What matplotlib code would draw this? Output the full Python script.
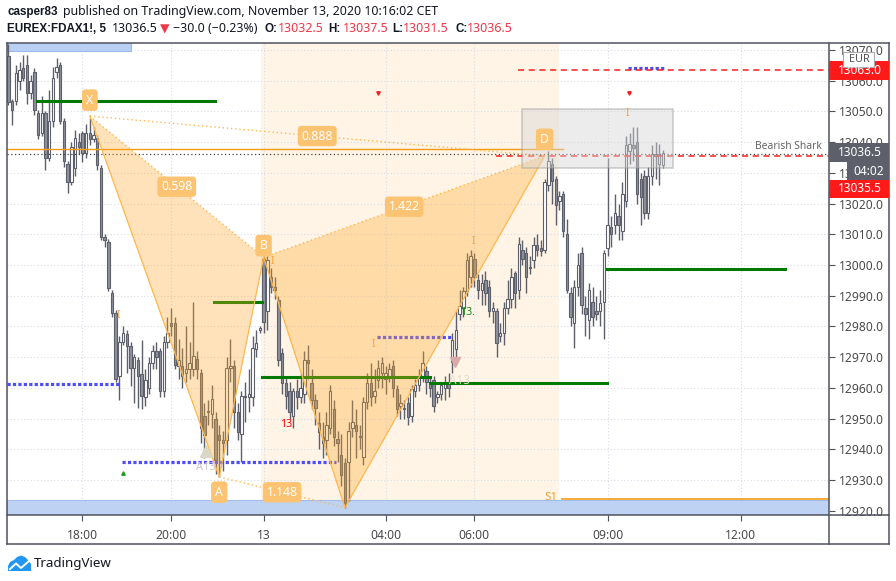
import matplotlib
matplotlib.use("Agg")
import matplotlib.pyplot as plt
from matplotlib.patches import Rectangle, Polygon
from matplotlib.lines import Line2D

plt.rcParams['font.family'] = ['Noto Sans', 'DejaVu Sans']

W, H = 896, 581

# 5 minute bars, FDAX, 12-13 Nov 2020
opens = [13068, 13053.5, 13053.5, 13060, 13064, 13065, 13056, 13063, 13049.5, 13043,
         13049.5, 13035, 13047, 13063, 13065, 13047, 13033, 13027, 13031.5, 13040,
         13043, 13036.5, 13043, 13041, 13041.5, 13031.5, 13009, 13007.5, 12991, 12984.5,
         12964, 12975, 12977.5, 12973.5, 12966.5, 12969, 12964.5, 12957, 12960, 12968,
         12972, 12972, 12959, 12975, 12981, 12981, 12967, 12967, 12965, 12966,
         12966, 12969.5, 12965, 12951, 12952, 12951.5, 12950, 12944.5, 12943, 12943,
         12966.5, 12967, 12952, 12945, 12957.5, 12957, 12957, 12972.5, 12979, 13002,
         12985, 12996, 12993, 12988.5, 12971.5, 12961.5, 12959, 12951, 12959, 12957,
         12958, 12969, 12961.5, 12956, 12948.5, 12944, 12943, 12947, 12953, 12943.5,
         12938, 12935.5, 12936, 12947, 12948, 12944, 12937.5, 12955.5, 12961.5, 12957.5,
         12962.5, 12965, 12963, 12964, 12967, 12959.5, 12954, 12953, 12955, 12951,
         12959, 12961, 12964, 12965.5, 12962, 12962.5, 12957, 12958, 12960, 12962,
         12968.5, 12972.5, 12984, 12986, 12991.5, 12996, 13002, 12995, 12992, 12995,
         12993, 12985, 12985, 12977, 12978, 12986, 12989, 12997.5, 12992, 13005,
         13004, 12999, 13001.5, 13006.5, 13005.5, 13005, 13026, 13033, 13028, 13021,
         13023, 13010, 12991, 12981, 12993, 13004, 12986, 12982, 12988, 12985,
         12985, 12988, 13005.5, 13012.5, 13013, 13016, 13011, 13021, 13037, 13039,
         13040, 13028, 13029, 13017, 13029, 13036, 13033, 13032.5]
highs = [13072, 13054, 13065, 13066, 13068.5, 13068.5, 13062, 13064, 13050.5, 13055,
         13050, 13057, 13064.5, 13067.5, 13066, 13048, 13034, 13040, 13044, 13043,
         13043.5, 13046, 13048, 13045, 13042.5, 13032.5, 13010, 13008.5, 12992, 12985.5,
         12977, 12980, 12979, 12975, 12971, 12970, 12975.5, 12966, 12970, 12974,
         12975, 12973, 12977, 12983, 12986, 12983, 12976, 12973, 12980, 12975,
         12988, 12972, 12966, 12955, 12956, 12961, 12952, 12948, 12946, 12970,
         12976, 12969, 12955, 12959, 12962, 12966, 12977, 12979, 12980, 13003,
         13003, 12999, 12996, 12990, 12973, 12964, 12962, 12960, 12963, 12965,
         12972, 12974, 12966, 12958, 12952, 12949, 12952, 12961, 12956, 12946,
         12945, 12937, 12949, 12956, 12953, 12948, 12957, 12965, 12968, 12966,
         12969, 12970, 12967, 12968, 12969, 12961, 12958, 12956, 12957, 12961,
         12963, 12966, 12972, 12967, 12964, 12964, 12959, 12962, 12964, 12965,
         12978, 12985, 12992, 12993, 13004, 13005, 13004, 12997, 12997, 12998,
         12995, 12988, 12986, 12981, 12988, 12995, 12999, 12998, 13009, 13008,
         13006, 13003, 13009, 13010, 13008, 13028, 13037, 13035, 13029, 13024,
         13024, 13015, 12993, 12995, 13004, 13006, 12990, 12994, 12993, 12990,
         12992, 13005, 13035, 13016, 13023, 13020, 13027, 13042, 13043, 13045,
         13045, 13030, 13031, 13032, 13039, 13040, 13039.5, 13037.5]
lows = [13052, 13045.5, 13052, 13057, 13060, 13052.5, 13054, 13049, 13041, 13042,
        13031, 13034, 13045, 13061, 13046, 13032, 13023.5, 13026, 13029, 13036,
        13033.5, 13035, 13039, 13040, 13031, 13008, 13006, 12991.5, 12983, 12962,
        12956, 12974, 12965, 12960.5, 12955, 12953.5, 12953, 12954, 12958, 12966,
        12966, 12957, 12957, 12973, 12977, 12966, 12963, 12960, 12962, 12963,
        12964, 12963, 12942, 12937, 12948, 12947, 12932, 12931, 12933, 12938,
        12962, 12947, 12943, 12936, 12949, 12952, 12954, 12970, 12978, 12978,
        12979, 12991, 12989, 12967, 12958, 12953, 12950, 12947, 12953, 12955,
        12955, 12963, 12953, 12948, 12940, 12937, 12938, 12945, 12941, 12936,
        12928, 12921, 12923, 12944, 12937, 12940, 12935, 12953, 12954, 12955,
        12960, 12960, 12958, 12962, 12957, 12951, 12950, 12950, 12948, 12949,
        12957, 12959, 12962, 12958, 12957, 12952, 12955, 12956, 12956, 12957,
        12965, 12970, 12982, 12983, 12990, 12993, 12993, 12989, 12987, 12987,
        12983, 12981, 12970, 12975, 12974, 12984, 12986, 12986, 12989, 13000,
        12991, 12997, 12999, 13003, 13003, 13004, 13024, 13020, 13013, 13018,
        13009, 12991, 12980, 12973, 12990, 12984, 12977, 12976, 12980, 12982,
        12980, 12976, 13003, 13006, 13010, 13008, 13008, 13019, 13033, 13034,
        13020, 13013, 13015, 13015, 13026, 13028, 13026, 13031.5]
closes = [13053, 13050.5, 13062.5, 13063.5, 13061, 13056, 13060, 13050.5, 13042.5, 13049.5,
          13035, 13047, 13061, 13064.5, 13047, 13034, 13027, 13038.5, 13041.5, 13038.5,
          13036.5, 13043, 13041, 13042.5, 13032.5, 13009, 13008, 12992.5, 12984.5, 12963,
          12975, 12978, 12973.5, 12966.5, 12970, 12964, 12957.5, 12962.5, 12968, 12972,
          12970, 12959, 12975, 12978, 12980, 12967.5, 12969, 12964, 12966, 12968,
          12970.5, 12966, 12947, 12944.5, 12952, 12956.5, 12936.5, 12943, 12942, 12966.5,
          12967, 12952, 12945.5, 12957.5, 12957, 12958, 12973, 12974.5, 12979.5, 12981.5,
          13001.5, 12993, 12992, 12969, 12961.5, 12957.5, 12952, 12959, 12957, 12960,
          12969, 12968, 12956, 12953.5, 12945.5, 12942, 12948, 12959, 12944, 12942,
          12931.5, 12922.5, 12946, 12949, 12946, 12944, 12955.5, 12961.5, 12957, 12959,
          12966.5, 12968, 12965, 12966, 12960, 12953, 12955, 12953, 12950.5, 12959.5,
          12961, 12963.5, 12968, 12962, 12960, 12954, 12958, 12961, 12962, 12960,
          12975.5, 12979, 12986.5, 12991.5, 13001.5, 13003, 12996, 12992, 12994, 12991,
          12985, 12986, 12974.5, 12978, 12986, 12989, 12996, 12991, 13007, 13002,
          12996, 12999.5, 13006.5, 13005, 13004.5, 13027, 13034, 13027.5, 13019.5, 13022.5,
          13011, 12992, 12983, 12993, 13000, 12987, 12984, 12992, 12983, 12984,
          12987.5, 13004, 13013, 13010, 13017, 13013, 13023, 13039, 13039.5, 13038,
          13023, 13022, 13017, 13029, 13036, 13035.5, 13036, 13036.5]

time_ticks = [20, 44, 69, 102, 126, 162, 198]
time_labels = ["18:00", "20:00", "13", "04:00", "06:00", "09:00", "12:00"]
price_ticks = [12920, 12930, 12940, 12950, 12960, 12970, 12980, 12990,
               13000, 13010, 13020, 13030, 13040, 13050, 13060, 13070]

# bearish shark XABCD
pattern_names = ["X", "A", "B", "C", "D"]
pattern_idx = [22, 57, 69, 91, 145]
pattern_price = [13048.5, 12931, 13002.5, 12921, 13035.5]
ratio_text = ["0.598", "0.888", "1.422", "1.148"]
ratio_pairs = [(0, 2), (0, 4), (2, 4), (1, 3)]

# levels: (start bar, end bar, price)
green_levels = [(7.8, 55.9, 13053.4), (55.6, 68.6, 12988.1), (68.6, 114, 12963.4),
                (114, 161.8, 12961.7), (161.8, 210, 12998.7)]
blue_levels = [(-0.4, 30.5, 12961.2), (30.8, 88.6, 12936), (99.7, 120.2, 12976.5),
               (167.5, 177.3, 13064)]
red_levels = [(137.8, 13063.5), (131.8, 13035.5)]

XMIN, XMAX = -0.4, 221.9
YMIN, YMAX = 12918.6, 13072.3

ORANGE = '#ffa726'
LABEL = '#fcc372'
RED = '#f23645'
GREY = '#50535e'
TXT = '#4a4a4a'
DARK = '#131722'


def fx(x):
    return x / W


def fy(y):
    return 1 - y / H


fig = plt.figure(figsize=(W / 100, H / 100), dpi=100)
fig.patch.set_facecolor('white')
ax = fig.add_axes([fx(7), fy(515), (829 - 7) / W, (515 - 43) / H])
ax.set_xlim(XMIN, XMAX)
ax.set_ylim(YMIN, YMAX)
for s in ax.spines.values():
    s.set_visible(False)

ax.set_xticks(time_ticks)
ax.set_xticklabels(time_labels)
ax.set_yticks(price_ticks)
ax.set_yticklabels(["%.1f" % p for p in price_ticks])
ax.yaxis.tick_right()
ax.tick_params(axis='y', length=4, color=GREY, labelsize=8.7, labelcolor=TXT, pad=3)
ax.tick_params(axis='x', length=4, color=GREY, labelsize=8.7, labelcolor=TXT, pad=6)
ax.grid(True, color='#d5dde8', linestyle=(0, (1, 2)), linewidth=0.8)
ax.set_axisbelow(True)

# background zones
ax.add_patch(Rectangle((68.3, YMIN), 148.9 - 68.3, YMAX - YMIN, facecolor='#fff4e6',
                       edgecolor='none', zorder=0.2))
ax.add_patch(Rectangle((XMIN, YMIN), XMAX - XMIN, 12923.6 - YMIN, facecolor='#b9d0f4',
                       edgecolor='#9dbbe8', lw=0.8, alpha=0.92, zorder=0.6))
ax.add_patch(Rectangle((XMIN, 13069.8), 33.6, 3, facecolor='#b9d0f4',
                       edgecolor='#9dbbe8', lw=0.8, zorder=0.6))
ax.plot([149.7, XMAX], [12923.8, 12923.8], color='#f39c12', lw=1.2, zorder=3)
ax.text(146.7, 12924.2, "S1", color='#f0a030', fontsize=8.3, ha='center', va='center',
        zorder=3)

# candles
for i in range(len(closes)):
    o, h, l, c = opens[i], highs[i], lows[i], closes[i]
    ax.plot([i, i], [l, h], color='#5d606b', lw=1.0, zorder=2, solid_capstyle='butt')
    lo, hi = min(o, c), max(o, c)
    if hi - lo < 0.4:
        hi = lo + 0.4
    face = 'white' if c >= o else '#8e919b'
    ax.add_patch(Rectangle((i - 0.33, lo), 0.66, hi - lo, facecolor=face,
                           edgecolor='#5d606b', lw=0.8, zorder=2.1))

# level lines
for x0, x1, p in green_levels:
    ax.plot([x0, x1], [p, p], color='#007a00', lw=2.2, zorder=3)
for x0, x1, p in blue_levels:
    ax.plot([x0, x1], [p, p], color='#4d4dff', lw=2.3, ls=(0, (1, 0.7)), zorder=3)
for x0, p in red_levels:
    ax.plot([x0, XMAX], [p, p], color='#ff1f1f', lw=1.1, ls=(0, (4, 3)), zorder=3)
ax.plot([XMIN, 150], [13037.8, 13037.8], color='#f39c12', lw=1.0, zorder=3)
ax.plot([XMIN, XMAX], [13036.3, 13036.3], color='#444444', lw=0.9, ls=(0, (1, 2)), zorder=3)
ax.text(211, 13038.6, "Bearish Shark", color='#666666', fontsize=7.4, ha='center',
        va='center', zorder=4)

# PRZ box
ax.add_patch(Rectangle((138.9, 13031.5), 179.7 - 138.9, 13050.7 - 13031.5,
                       facecolor='#d6d6d6', alpha=0.45, edgecolor='#999999', lw=1.2, zorder=4))

# harmonic pattern
px_ = pattern_idx
py_ = pattern_price
for tri in [(0, 1, 2), (2, 3, 4)]:
    ax.add_patch(Polygon([(px_[j], py_[j]) for j in tri], closed=True, facecolor=ORANGE,
                         alpha=0.32, edgecolor='none', zorder=3.5))
for a, b in [(0, 1), (1, 2), (2, 3), (3, 4)]:
    ax.plot([px_[a], px_[b]], [py_[a], py_[b]], color='#ffb74d', lw=0.9, zorder=3.6)
for a, b in [(0, 2), (2, 4), (0, 4), (1, 3)]:
    ax.plot([px_[a], px_[b]], [py_[a], py_[b]], color='#ffb74d', lw=1.0,
            ls=(0, (1, 2)), zorder=3.6)

for txt, (a, b) in zip(ratio_text, ratio_pairs):
    ax.text((px_[a] + px_[b]) / 2, (py_[a] + py_[b]) / 2, txt, color='white', fontsize=8.8,
            fontweight='bold', ha='center', va='center', zorder=6,
            bbox=dict(boxstyle='round,pad=0.3,rounding_size=0.3', fc=LABEL, ec='none'))

offsets = [11.5, -11, 8.5, -13, 12]
for name, x, y, off in zip(pattern_names, px_, py_, offsets):
    t = ax.annotate(name, (x, y), xytext=(0, off), textcoords='offset points', color='white',
                    fontsize=8.8, fontweight='bold', ha='center', va='center', zorder=6,
                    bbox=dict(boxstyle='round,pad=0.35,rounding_size=0.3', fc=LABEL, ec='none'))
    t.set_clip_box(ax.bbox)
    t.set_clip_on(True)

# small study marks
for x, y in [(29.7, 12983.7), (71.3, 13001), (98.6, 12974), (125.6, 13007.5), (167.3, 13049.5)]:
    ax.text(x, y, "I", color='#f5a243', fontsize=7.5, ha='center', va='center', zorder=5)
ax.plot([99.9, 167.8], [13056, 13056], ls='none', marker='v', ms=2.5, color='#ff1f1f', zorder=5)
ax.plot([31], [12932.4], ls='none', marker='^', ms=2.5, color='#1e9e1e', zorder=5)
ax.text(75.5, 12948, "13.", color='red', fontsize=7.5, ha='center', va='center', zorder=5)
ax.text(124, 12984.7, "13.", color='#188a18', fontsize=7.5, ha='center', va='center', zorder=5)
ax.plot([53.5], [12939.5], ls='none', marker='^', ms=8, color='#d8d8c4', zorder=5)
ax.text(53.5, 12934, "A13", color='#cfc8c8', fontsize=8, ha='center', va='center', zorder=5)
ax.plot([120.8], [12968.4], ls='none', marker='v', ms=7, color='#d9a8a8', zorder=5)
ax.text(122, 12962.5, "A13", color='#e6e0d0', fontsize=8.5, ha='center', va='center', zorder=5)

# chart frame
for x0, y0, x1, y1 in [(7, 43, 889, 43), (7, 43, 7, 544), (889, 43, 889, 544),
                       (7, 544, 889, 544), (829, 43, 829, 544), (7, 515, 889, 515)]:
    fig.add_artist(Line2D([fx(x0), fx(x1)], [fy(y0), fy(y1)], color=GREY, lw=1.1))


def axis_box(x0, y0, x1, y1, fc, text, tc='white', ec='none', fs=8.5):
    fig.add_artist(Rectangle((fx(x0), fy(y1)), (x1 - x0) / W, (y1 - y0) / H, facecolor=fc,
                             edgecolor=ec, lw=0.8, zorder=5))
    fig.text(fx((x0 + x1) / 2 + 1), fy((y0 + y1) / 2), text, color=tc, fontsize=fs,
             ha='center', va='center', zorder=6)


axis_box(829, 61, 889, 80, '#ff1a1a', "13063.0")
axis_box(843, 52, 874, 67, 'white', "EUR", tc='#555555', ec='#aaaaaa', fs=7.8)
axis_box(829, 143, 889, 162, '#5d606b', "13036.5")
axis_box(847, 162, 889, 180, '#5d606b', "04:02")
axis_box(829, 180, 889, 198, '#ff1a1a', "13035.5")

# header, pieces placed where the reference has them
header1 = [("casper83", 7, DARK, 'bold'),
           ("published on TradingView.com, November 13, 2020 10:16:02 CET", 63, DARK, 'normal')]
header2 = [("EUREX:FDAX1!, 5", 7, DARK, 'bold'), ("13036.5", 112, DARK, 'normal'),
           ("\u25bc", 160, RED, 'normal'), ("\u221230.0 (\u22120.23%)", 173, DARK, 'normal'),
           ("O:", 264, DARK, 'bold'), ("13032.5", 278, RED, 'normal'),
           ("H:", 328, DARK, 'bold'), ("13037.5", 343, RED, 'normal'),
           ("L:", 392, DARK, 'bold'), ("13031.5", 403, RED, 'normal'),
           ("C:", 455, DARK, 'bold'), ("13036.5", 467, RED, 'normal')]
for pieces, y in [(header1, 12), (header2, 29)]:
    for txt, x, color, weight in pieces:
        if weight == 'bold':
            fig.text(fx(x), fy(y), txt, color=color, fontsize=8.4, fontweight='bold',
                     family=['Liberation Sans', 'DejaVu Sans'], va='center', ha='left')
        else:
            fig.text(fx(x), fy(y), txt, color=color, fontsize=8.9, va='center', ha='left')

# footer logo
fig.add_artist(Polygon([(fx(8), fy(571)), (fx(8), fy(566)), (fx(10), fy(562)),
                        (fx(14), fy(560)), (fx(17), fy(557)), (fx(21), fy(555.5)),
                        (fx(25), fy(557)), (fx(28), fy(560)), (fx(31), fy(564)),
                        (fx(31), fy(571))], closed=True, facecolor='#2196f3',
                       edgecolor='none'))
fig.add_artist(Line2D([fx(10), fx(16), fx(21), fx(29)], [fy(569), fy(563.5), fy(568), fy(561)],
                      color='white', lw=1.4))
fig.text(fx(34), fy(563), "TradingView", color=DARK, fontsize=9.6, va='center', ha='left')

fig.savefig("out.png", dpi=100)
